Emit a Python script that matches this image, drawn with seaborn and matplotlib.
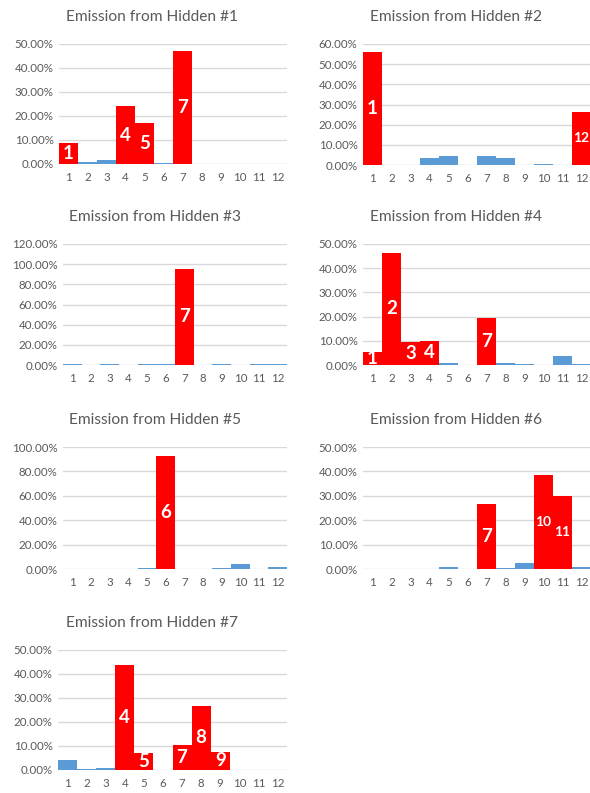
import matplotlib
matplotlib.use("Agg")
import matplotlib.pyplot as plt
import seaborn as sns
import pandas as pd

# Emission probabilities (%) for observed symbols 1..12, per hidden state
symbols = [str(i) for i in range(1, 13)]

hidden_1 = [8.6, 1.0, 1.6, 24.0, 17.1, 0.5, 47.0, 0, 0, 0, 0, 0]
hidden_2 = [56.2, 0, 0, 3.5, 4.6, 0, 4.3, 3.6, 0, 0.7, 0, 26.5]
hidden_3 = [0.6, 0, 0.6, 0, 0.6, 0.6, 95.5, 0, 0.6, 0, 0.6, 0.6]
hidden_4 = [5.2, 46.3, 9.5, 10.0, 1.0, 0, 19.3, 1.0, 0.4, 0, 3.9, 0.6]
hidden_5 = [0, 0, 0, 0, 0.7, 92.8, 0, 0, 0.7, 4.5, 0, 2.0]
hidden_6 = [0, 0, 0, 0, 1.0, 0, 26.6, 0.5, 2.6, 38.6, 30.0, 1.0]
hidden_7 = [4.0, 0.5, 1.0, 43.6, 7.0, 0, 10.4, 26.7, 7.5, 0, 0, 0]

# Dominant symbols of each hidden state (drawn in red and labelled)
dominant_1 = [1, 4, 5, 7]
dominant_2 = [1, 12]
dominant_3 = [7]
dominant_4 = [1, 2, 3, 4, 7]
dominant_5 = [6]
dominant_6 = [7, 10, 11]
dominant_7 = [4, 5, 7, 8, 9]

titles = [f"Emission from Hidden #{i}" for i in range(1, 8)]
series = [hidden_1, hidden_2, hidden_3, hidden_4, hidden_5, hidden_6, hidden_7]
dominants = [dominant_1, dominant_2, dominant_3, dominant_4, dominant_5, dominant_6, dominant_7]
y_max = [50, 60, 120, 50, 100, 50, 50]
y_step = [10, 10, 20, 10, 20, 10, 10]

RED = "#FF0000"
BLUE = "#5B9BD5"
TEXT = "#595959"
GRID = "#D9D9D9"

sns.set_theme(style="white")
plt.rcParams["font.family"] = ["Lato", "DejaVu Sans"]

W, H = 590, 793
fig = plt.figure(figsize=(W / 100, H / 100), dpi=100)

# axes boxes in pixels: left, top, right, bottom
boxes = [
    (59, 44, 287, 164),
    (363, 44, 591, 165),
    (63, 244, 287, 365),
    (363, 244, 591, 365),
    (63, 447, 287, 569),
    (363, 447, 591, 569),
    (58, 650, 287, 770),
]

for title, vals, dom, ymax, step, (l, t, r, b) in zip(titles, series, dominants, y_max, y_step, boxes):
    ax = fig.add_axes([l / W, 1 - b / H, (r - l) / W, (b - t) / H])
    df = pd.DataFrame({
        "symbol": symbols,
        "prob": vals,
        "dominant": [int(s) in dom for s in symbols],
    })
    sns.barplot(data=df, x="symbol", y="prob", hue="dominant", order=symbols,
                palette={True: RED, False: BLUE}, dodge=False, width=1.0,
                saturation=1, legend=False, linewidth=0, ax=ax)
    ax.set_ylim(0, ymax)
    ax.set_xlim(-0.5, 11.5)
    ticks = list(range(0, ymax + 1, step))
    ax.set_yticks(ticks)
    ax.set_yticklabels([f"{v:.2f}%" for v in ticks])
    ax.yaxis.grid(True, color=GRID, linewidth=1)
    ax.set_axisbelow(True)
    for s in ax.spines.values():
        s.set_visible(False)
    ax.tick_params(axis="both", length=0, colors=TEXT, labelsize=8.3)
    ax.tick_params(axis="x", pad=6)
    ax.tick_params(axis="y", pad=4)
    ax.set_xlabel("")
    ax.set_ylabel("")
    h_px = b - t
    ax.text(0.41, 1 + 27 / h_px, title, transform=ax.transAxes, ha="center",
            va="center", fontsize=11.2, color=TEXT)
    for i, s in enumerate(symbols):
        if int(s) in dom:
            v = vals[i]
            ax.text(i, v / 2, s, ha="center", va="center", color="white",
                    fontweight="bold", fontsize=13.5 if len(s) == 1 else 10,
                    clip_on=True)

fig.savefig("out.png", dpi=100)
